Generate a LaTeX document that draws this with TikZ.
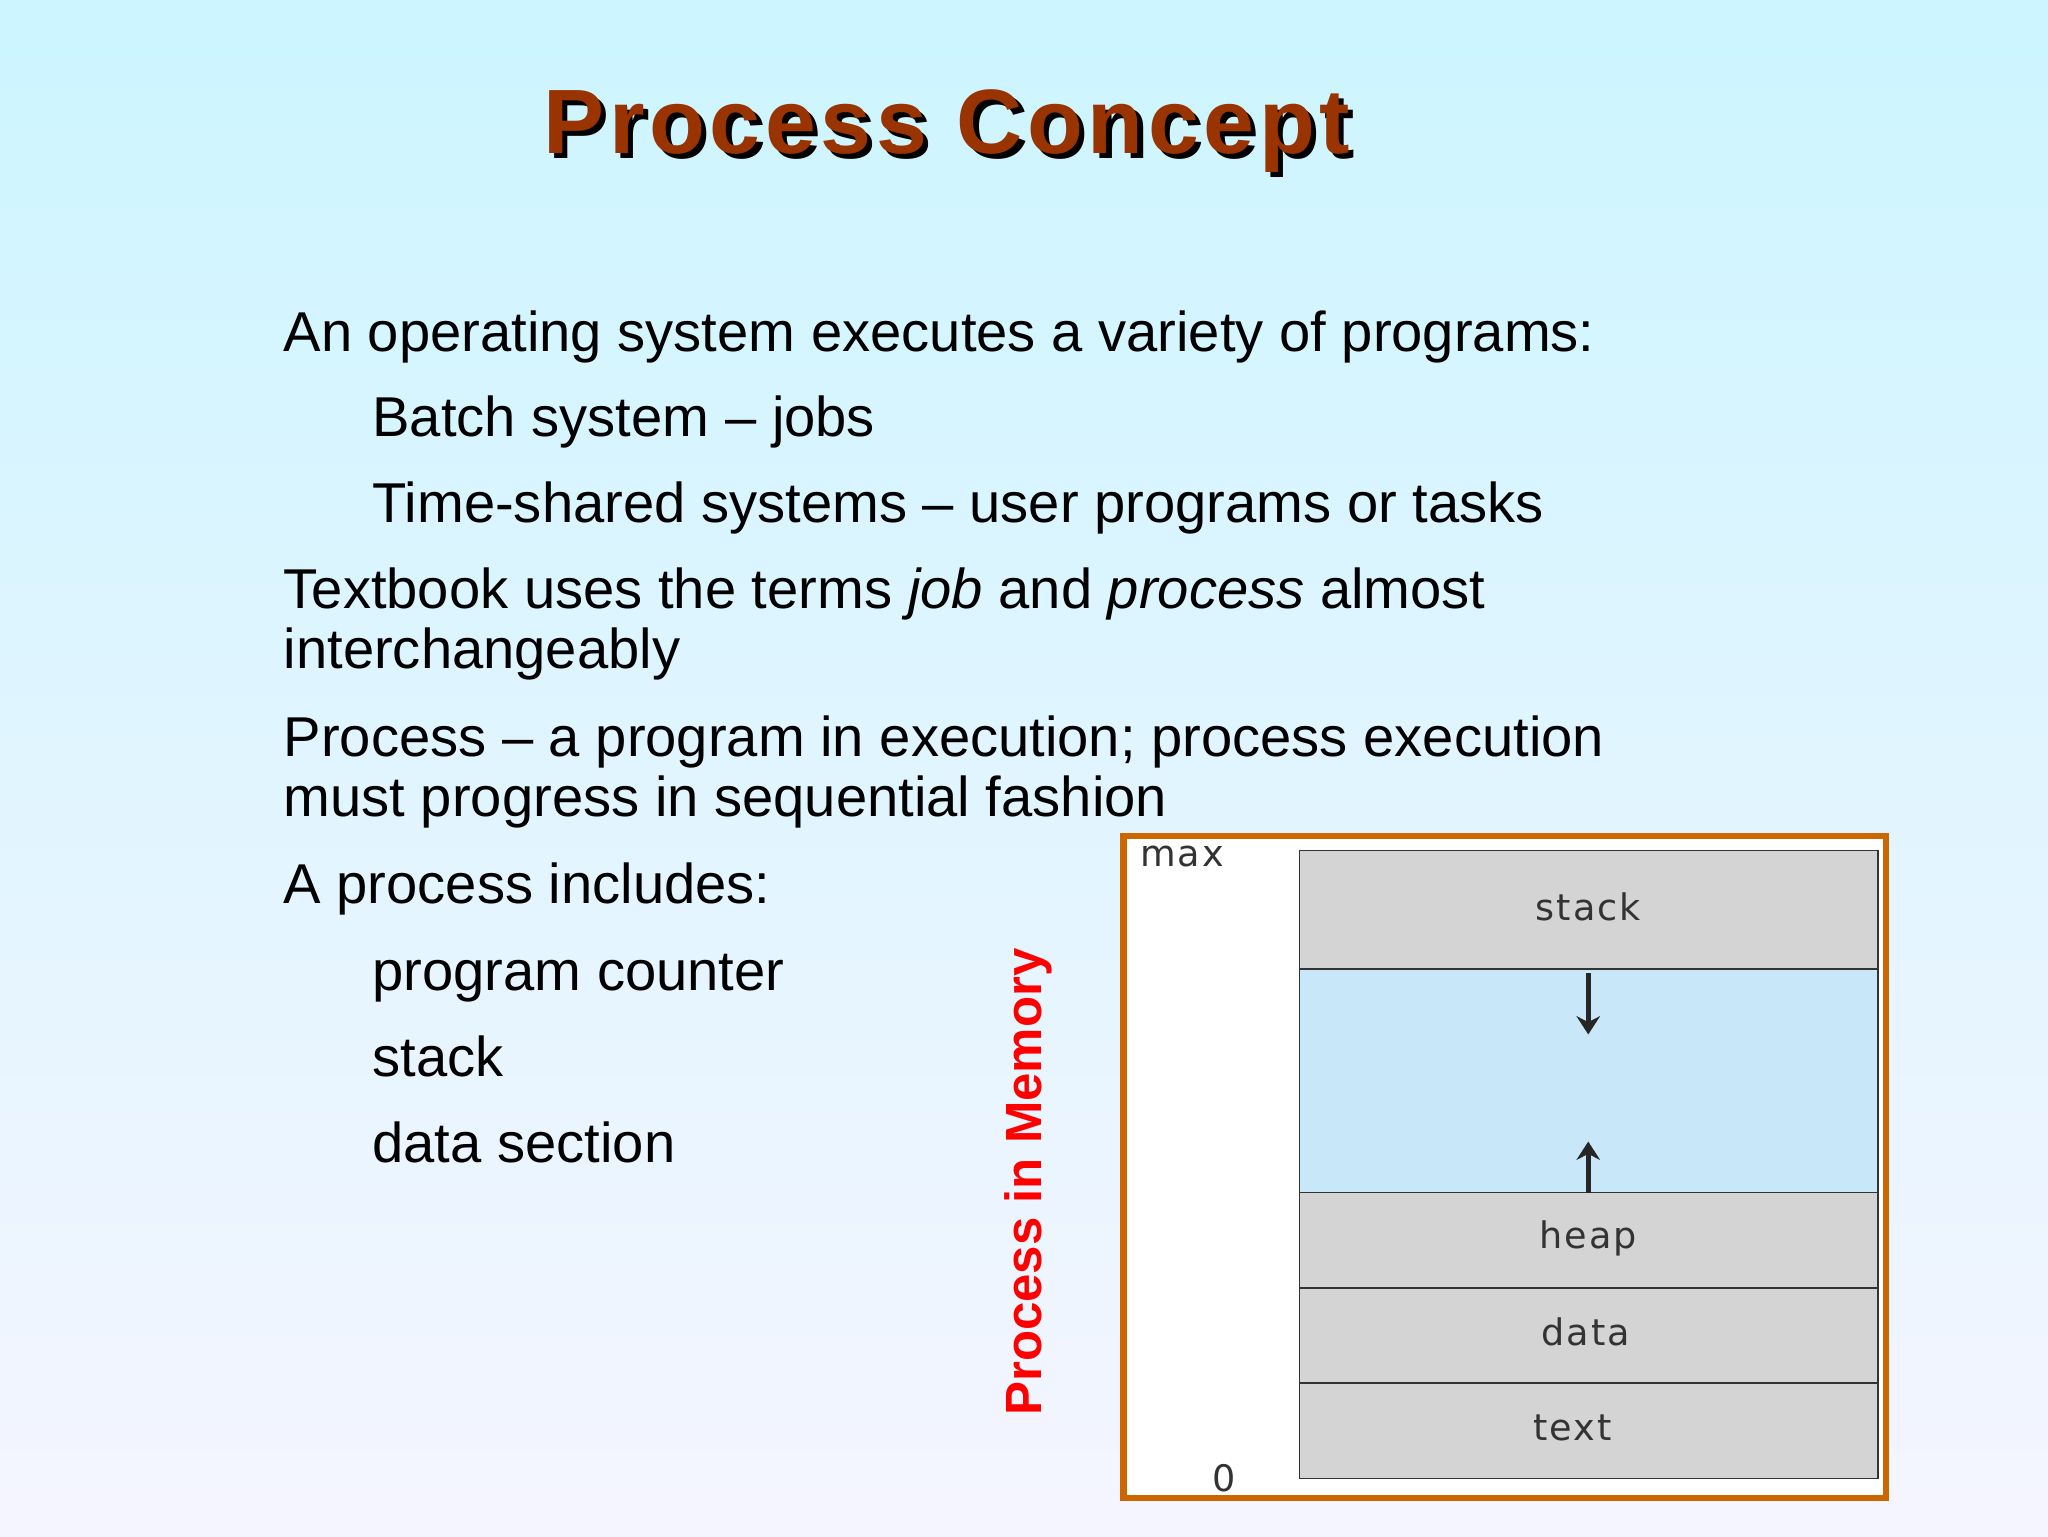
\documentclass[tikz,border=0pt]{standalone}
\usepackage{fontspec}
\usetikzlibrary{arrows.meta}
\setmainfont{Liberation Sans}
\newfontfamily\wide{DejaVu Sans}[LetterSpace=6]
\newfontfamily\titlefont{Liberation Sans}[LetterSpace=5]
\begin{document}
\begin{tikzpicture}[x=1pt,y=-1pt,
  body/.style={anchor=base west,inner sep=0pt,font=\fontsize{43}{49}\selectfont,align=left},
  seg/.style={draw=black!80,line width=1.2pt,fill=black!17},
  lbl/.style={font=\wide\fontsize{28}{30}\selectfont,text=black!80},
  ttl/.style={font=\titlefont\bfseries\fontsize{70}{80}\selectfont}]
\shade[top color=blue!20!cyan!20,bottom color=white!96!blue] (0,0) rectangle (1568,1176);
\useasboundingbox (0,0) rectangle (1568,1176);
\node[ttl,text=black] at (729,104) {Process Concept};
\node (title) [ttl,text={rgb,255:red,153;green,51;blue,0}] at (725,100) {Process Concept};
\node (l1) [body] at (217,269) {An operating system executes a variety of programs:};
\node (l2) [body] at (285,334) {Batch system -- jobs};
\node (l3) [body] at (285,400) {Time-shared systems -- user programs or tasks};
\node (l4) [body] at (217,466) {Textbook uses the terms \emph{job} and \emph{process} almost};
\node (l4b) [body] at (217,512) {interchangeably};
\node (l5) [body] at (217,579) {Process -- a program in execution; process execution};
\node (l5b) [body] at (217,625) {must progress in sequential fashion};
\node (l6) [body] at (217,692) {A process includes:};
\node (l7) [body] at (285,758) {program counter};
\node (l8) [body] at (285,824) {stack};
\node (l9) [body] at (285,890) {data section};
\node (pim) [rotate=90,font=\bfseries\fontsize{39}{44}\selectfont,text=red] at (787,905) {Process in Memory};
\draw[line width=5pt,draw={rgb,255:red,204;green,102;blue,0},fill=white] (860,640) rectangle (1444,1147);
\draw[seg] (995,651) rectangle (1438,742);
\draw[draw=black!80,line width=1.2pt,fill={rgb,255:red,200;green,232;blue,250}] (995,742) rectangle (1438,913);
\draw[seg] (995,913) rectangle (1438,986);
\draw[seg] (995,986) rectangle (1438,1059);
\draw[seg] (995,1059) rectangle (1438,1132);
\node (stack) [lbl] at (1216,694) {stack};
\node (heap) [lbl] at (1216,948) {heap};
\node (data) [lbl] at (1214,1020) {data};
\node (text) [lbl] at (1204,1093) {text};
\node (max) [lbl] at (905,656) {max};
\node (zero) [lbl] at (937,1132) {0};
\coordinate (a1) at (1216,745); \coordinate (a2) at (1216,792);
\coordinate (b1) at (1216,913); \coordinate (b2) at (1216,874);
\draw[line width=3.5pt,-{Stealth[length=14pt,width=18pt]},black!85] (a1) -- (a2);
\draw[line width=3.5pt,-{Stealth[length=14pt,width=18pt]},black!85] (b1) -- (b2);
\end{tikzpicture}
\end{document}
